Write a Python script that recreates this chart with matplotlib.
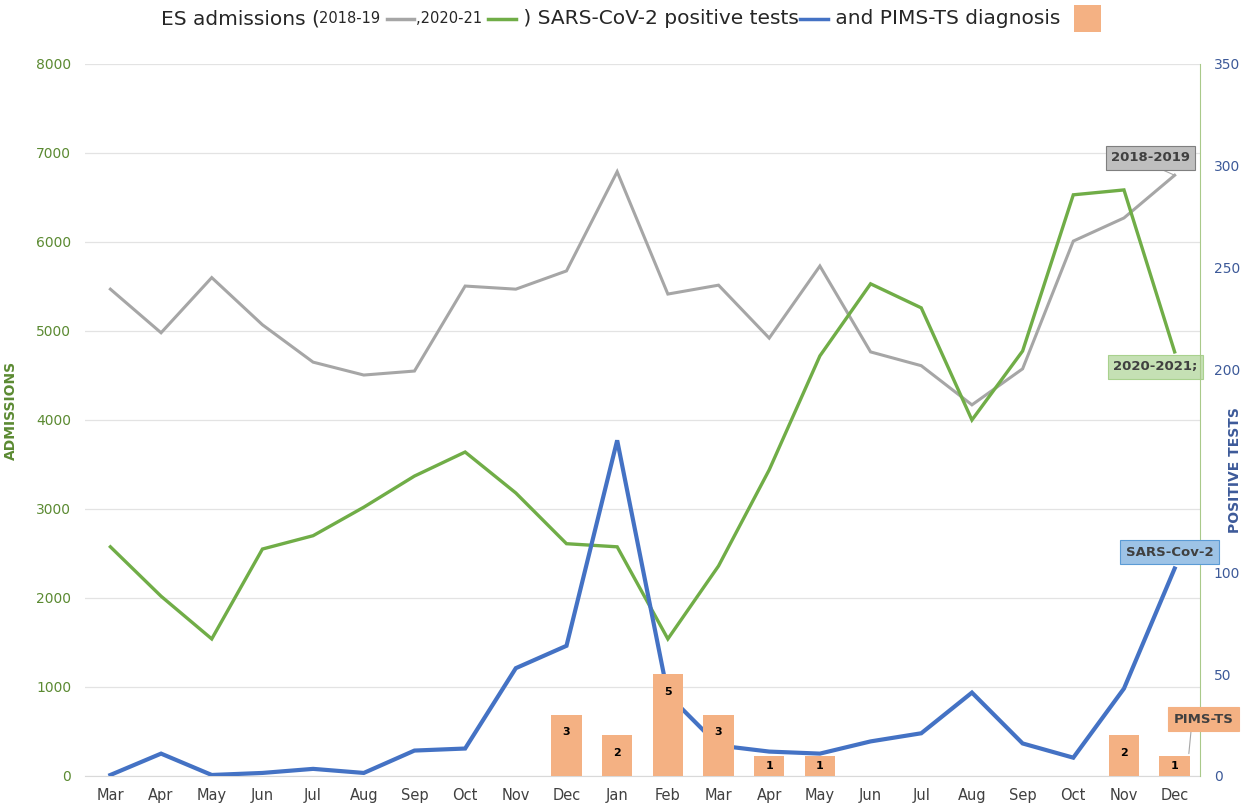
import matplotlib
matplotlib.use("Agg")
import matplotlib.pyplot as plt
import numpy as np
from matplotlib.offsetbox import TextArea, DrawingArea, HPacker, AnnotationBbox
from matplotlib.lines import Line2D
from matplotlib.patches import Rectangle

months = ["Mar", "Apr", "May", "Jun", "Jul", "Aug", "Sep", "Oct", "Nov", "Dec", "Jan",
          "Feb", "Mar", "Apr", "May", "Jun", "Jul", "Aug", "Sep", "Oct", "Nov", "Dec"]

# ES admissions per month
adm_2018_19 = [5470, 4980, 5600, 5070, 4650, 4505, 4550, 5505, 5470, 5675, 6790,
               5415, 5515, 4920, 5730, 4765, 4610, 4170, 4575, 6010, 6270, 6750]
adm_2020_21 = [2575, 2020, 1540, 2550, 2700, 3020, 3370, 3640, 3180, 2610, 2575,
               1540, 2360, 3440, 4720, 5530, 5260, 4000, 4775, 6530, 6585, 4765]

# SARS-CoV-2 positive tests
positive_tests = [0.5, 11, 0.5, 1.5, 3.5, 1.5, 12.5, 13.5, 53, 64, 165,
                  40, 15, 12, 11, 17, 21, 41, 16, 9, 43, 102]

# PIMS-TS diagnoses (0 = none that month)
pims = [0, 0, 0, 0, 0, 0, 0, 0, 0, 3, 2, 5, 3, 1, 1, 0, 0, 0, 0, 0, 2, 1]

# right axis ticks; the 150 label sits under the axis title
right_ticks = [0, 50, 100, 150, 200, 250, 300, 350]
right_labels = ["0", "50", "100", "", "200", "250", "300", "350"]

GREY = "#a6a6a6"
GREEN = "#70ad47"
BLUE = "#4472c4"
ORANGE = "#f4b183"
GREEN_TXT = "#5b8a32"
BLUE_TXT = "#3d5a99"
NARROW = ["Liberation Sans Narrow", "DejaVu Sans"]

x = np.arange(len(months))

fig = plt.figure(figsize=(12.47, 8.09), dpi=100)
ax = fig.add_axes([0.0682, 0.0408, 0.8941, 0.8801])
ax2 = ax.twinx()
ax3 = ax.twinx()

# admissions
ax.plot(x, adm_2018_19, color=GREY, lw=2.2, solid_joinstyle="miter")
ax.plot(x, adm_2020_21, color=GREEN, lw=2.4, solid_joinstyle="miter")
ax.set_ylim(0, 8000)
ax.set_yticks(range(0, 8001, 1000))
ax.set_xlim(-0.5, len(months) - 0.5)
ax.set_xticks(x)
ax.set_xticklabels(months, fontsize=10.5, color="#404040", family=NARROW)
ax.grid(axis="y", color="#e3e3e3", lw=0.9)
ax.set_axisbelow(True)
ax.tick_params(length=0)
ax.tick_params(axis="y", colors=GREEN_TXT, labelsize=10, pad=10)
ax.tick_params(axis="x", pad=9)
ax.set_ylabel("ADMISSIONS", color=GREEN_TXT, fontsize=10, fontweight="bold",
              family=NARROW)
ax.yaxis.set_label_coords(-0.060, 0.514)
for s in ["top", "left", "right"]:
    ax.spines[s].set_visible(False)
ax.spines["bottom"].set_color("#d9d9d9")

# positive tests
ax2.plot(x, positive_tests, color=BLUE, lw=3.0, solid_joinstyle="miter")
ax2.set_ylim(0, 350)
ax2.set_yticks(right_ticks)
ax2.set_yticklabels(right_labels)
ax2.tick_params(length=0, colors=BLUE_TXT, labelsize=10, pad=10)
ax2.set_ylabel("POSITIVE TESTS", color=BLUE_TXT, fontsize=10, fontweight="bold",
               family=NARROW)
ax2.yaxis.set_label_coords(1.025, 0.43)
for s in ["top", "left", "bottom"]:
    ax2.spines[s].set_visible(False)
ax2.spines["right"].set_color("#a9c98a")

# PIMS-TS bars, count written near the top of each bar
ax3.set_ylim(0, 35)
ax3.set_yticks([])
for s in ax3.spines.values():
    s.set_visible(False)
for xi, v in zip(x, pims):
    if v == 0:
        continue
    ax3.bar(xi, v, width=0.6, color=ORANGE, zorder=3)
    ax3.text(xi, max(v / 2, v - 0.85), str(v), ha="center", va="center", fontsize=8,
             fontweight="bold", color="black", zorder=4)

# series name boxes
def box(fc, ec):
    return dict(boxstyle="square,pad=0.4", fc=fc, ec=ec, lw=0.8)

lbl = dict(fontsize=9.5, fontweight="bold", color="#404040", ha="center", va="center")
ax.annotate("2018-2019", xy=(x[-1], adm_2018_19[-1]), xytext=(20.52, 6944),
            bbox=box("#bfbfbf", "#7f7f7f"),
            arrowprops=dict(arrowstyle="-", color="#a6a6a6", lw=0.8,
                            shrinkA=0, shrinkB=0, relpos=(0.5, 0.0)), **lbl)
ax.text(20.62, 4596, "2020-2021;", bbox=box("#c5e0b4", "#a9d18e"), **lbl)
ax2.text(20.9, 110, "SARS-Cov-2", bbox=box("#9dc3e6", "#5b9bd5"), **lbl)
ax3.annotate("PIMS-TS", xy=(x[-1] + 0.28, pims[-1] + 0.1), xytext=(21.57, 2.8),
             bbox=box(ORANGE, ORANGE),
             arrowprops=dict(arrowstyle="-", color="#a6a6a6", lw=0.8,
                             shrinkA=0, shrinkB=0, relpos=(0.3, 0.0)),
             annotation_clip=False, **lbl)

# title with inline legend swatches
def swatch(color):
    d = DrawingArea(22, 10, 0, 0)
    d.add_artist(Line2D([1, 21], [5, 5], color=color, lw=2.5))
    return d

sq = DrawingArea(20, 20, 0, 0)
sq.add_artist(Rectangle((0, 0), 20, 20, fc=ORANGE, ec="none"))

big = dict(size=14.5, color="#262626")
small = dict(size=10.5, color="#262626")
parts = [TextArea("ES admissions (", textprops=big),
         TextArea("2018-19 ", textprops=small), swatch(GREY),
         TextArea(",2020-21 ", textprops=small), swatch(GREEN),
         TextArea(" ) SARS-CoV-2 positive tests", textprops=big), swatch(BLUE),
         TextArea(" and PIMS-TS diagnosis  ", textprops=big), sq]
title = HPacker(children=parts, align="center", pad=0, sep=0)
fig.add_artist(AnnotationBbox(title, (0.506, 0.977), xycoords="figure fraction",
                              frameon=False, box_alignment=(0.5, 0.5)))

fig.savefig("out.png", dpi=100)
